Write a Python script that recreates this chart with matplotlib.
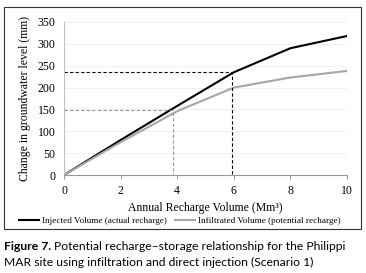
import matplotlib.pyplot as plt
from matplotlib.patches import Rectangle

# data
volume = [0, 2, 4, 6, 8, 10]
injected = [0, 80, 158, 235, 290, 318]
infiltrated = [0, 75, 146, 200, 223, 238]
inj_mark = (5.95, 236)
inf_mark = (3.85, 148)

fig = plt.figure(figsize=(3.66, 2.73), dpi=100)
ax = fig.add_axes([64 / 366, 1 - 175 / 273, 283 / 366, 153 / 273])

serif = "Liberation Serif"

ax.plot(volume, injected, color="black", lw=1.5, label="Injected Volume (actual recharge)")
ax.plot(volume, infiltrated, color="#a6a6a6", lw=1.5, label="Infiltrated Volume (potential recharge)")

# dashed guide lines
ax.plot([0, inj_mark[0], inj_mark[0]], [inj_mark[1], inj_mark[1], 0], color="black", ls=(0, (3, 2)), lw=0.8)
ax.plot([0, inf_mark[0], inf_mark[0]], [inf_mark[1], inf_mark[1], 0], color="#999999", ls=(0, (3, 2)), lw=0.8)

ax.set_xlim(0, 10)
ax.set_ylim(0, 350)
ax.set_xticks(range(0, 11, 2))
ax.set_yticks(range(0, 351, 50))
ax.grid(axis="y", color="#eeeeee", lw=0.6)
ax.set_axisbelow(True)
for s in ["top", "right"]:
    ax.spines[s].set_visible(False)
ax.spines["left"].set_color("#bfbfbf")
ax.spines["bottom"].set_color("#999999")
ax.tick_params(axis="y", length=0, labelsize=8.5, pad=6)
ax.tick_params(axis="x", length=3, color="#999999", labelsize=8.5, pad=4)
for lbl in ax.get_xticklabels() + ax.get_yticklabels():
    lbl.set_family(serif)

ax.set_xlabel("Annual Recharge Volume (Mm³)", fontsize=8.5, family=serif, labelpad=4)
ax.set_ylabel("Change in groundwater level (mm)", fontsize=8.5, family=serif, labelpad=5)

leg = ax.legend(loc="upper center", bbox_to_anchor=(0.41, -0.25), ncol=2, frameon=False,
                prop={"family": serif, "size": 6.6}, handlelength=2.2, columnspacing=0.9,
                handletextpad=0.3, borderaxespad=0)

# outer frame around the chart
fig.patches.append(Rectangle((4 / 366, 1 - 229 / 273), 357 / 366, 222 / 273, transform=fig.transFigure,
                             fill=False, edgecolor="#333333", lw=0.8))

cap_font = "Lato"
t1 = fig.text(4 / 366, 1 - 246 / 273, "Figure 7.", fontsize=8.7, weight="bold", family=cap_font, va="center")
fig.canvas.draw()
bb = t1.get_window_extent()
fig.text((bb.x1 + 3) / 366, 1 - 246 / 273, "Potential recharge\u2013storage relationship for the Philippi",
         fontsize=8.7, family=cap_font, va="center")
fig.text(4 / 366, 1 - 262 / 273, "MAR site using infiltration and direct injection (Scenario 1)",
         fontsize=8.7, family=cap_font, va="center")

fig.savefig("out.png", dpi=100)
